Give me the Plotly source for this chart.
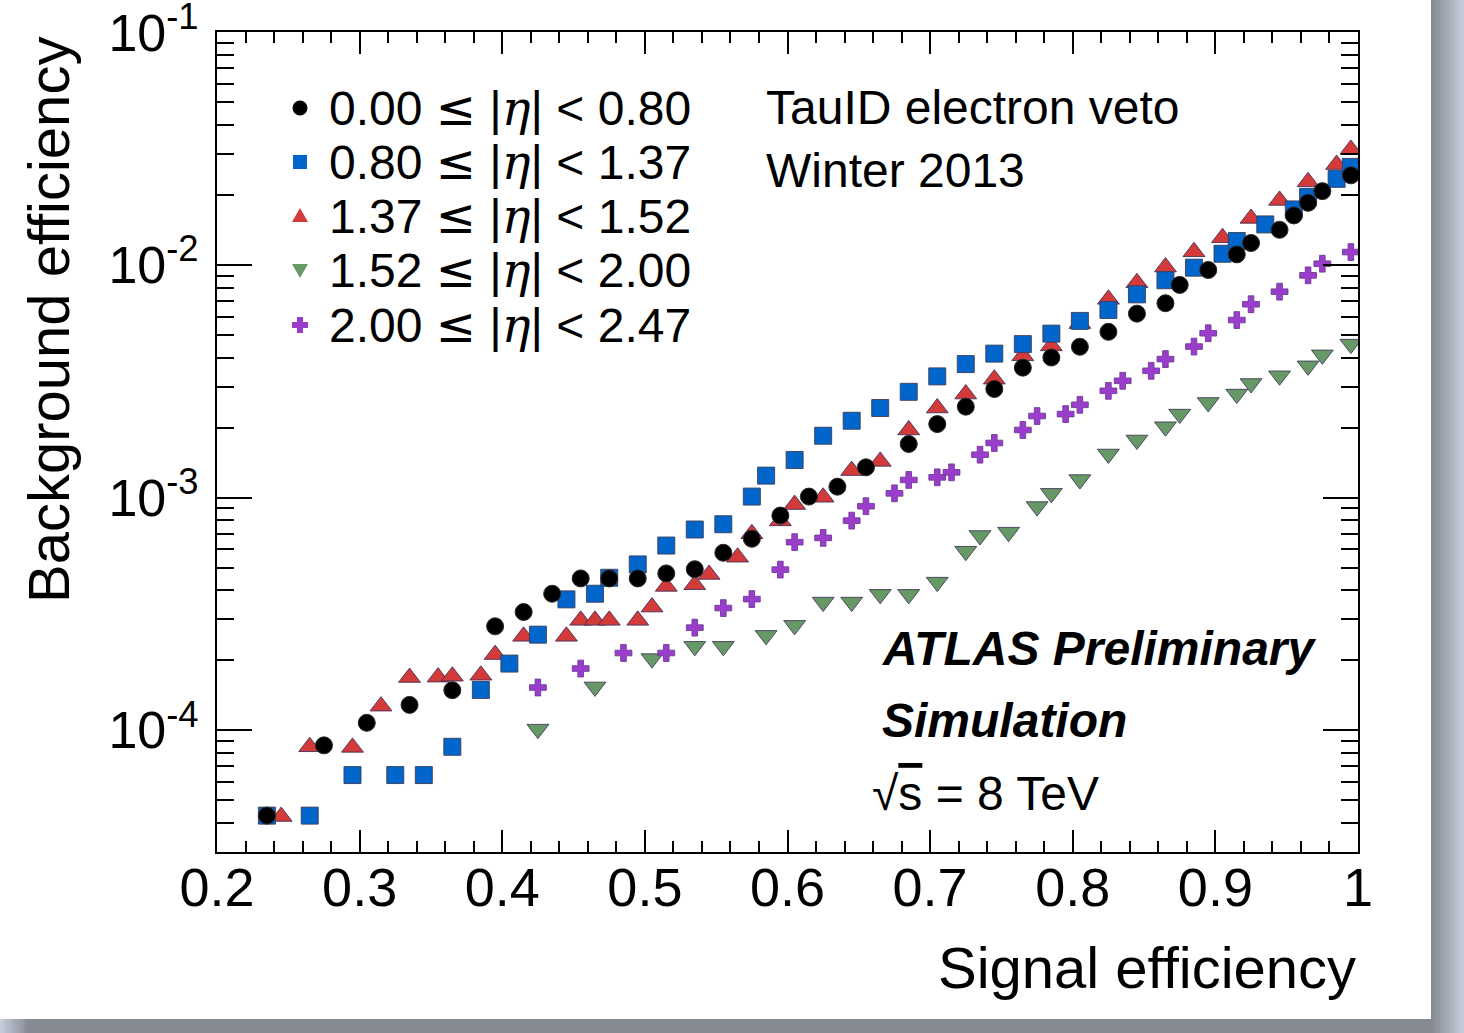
import plotly.graph_objects as go

# ---------------- data ----------------
series_names = ["0.00 ≤ |η| < 0.80", "0.80 ≤ |η| < 1.37", "1.37 ≤ |η| < 1.52",
                "1.52 ≤ |η| < 2.00", "2.00 ≤ |η| < 2.47"]

black_x = [0.235, 0.275, 0.305, 0.335, 0.365, 0.395, 0.415, 0.435, 0.455, 0.475,
           0.495, 0.515, 0.535, 0.555, 0.575, 0.595, 0.615, 0.635, 0.655, 0.685,
           0.705, 0.725, 0.745, 0.765, 0.785, 0.805, 0.825, 0.845, 0.865, 0.875,
           0.895, 0.915, 0.925, 0.945, 0.955, 0.965, 0.975, 0.995]
black_y = [4.29e-5, 8.60e-5, 1.075e-4, 1.284e-4, 1.485e-4, 2.795e-4, 3.22e-4, 3.86e-4, 4.49e-4, 4.49e-4,
           4.49e-4, 4.72e-4, 4.92e-4, 5.79e-4, 6.65e-4, 8.37e-4, 1.010e-3, 1.114e-3, 1.349e-3, 1.70e-3,
           2.07e-3, 2.46e-3, 2.93e-3, 3.62e-3, 4.00e-3, 4.45e-3, 5.16e-3, 6.18e-3, 6.85e-3, 8.21e-3,
           9.52e-3, 1.111e-2, 1.243e-2, 1.417e-2, 1.634e-2, 1.851e-2, 2.078e-2, 2.43e-2]

blue_x = [0.235, 0.265, 0.295, 0.325, 0.345, 0.365, 0.385, 0.405, 0.425, 0.445,
          0.465, 0.475, 0.495, 0.515, 0.535, 0.555, 0.575, 0.585, 0.605, 0.625,
          0.645, 0.665, 0.685, 0.705, 0.725, 0.745, 0.765, 0.785, 0.805, 0.825,
          0.845, 0.865, 0.885, 0.905, 0.915, 0.935, 0.955, 0.965, 0.985, 0.995]
blue_y = [4.29e-5, 4.29e-5, 6.41e-5, 6.41e-5, 6.41e-5, 8.48e-5, 1.489e-4, 1.933e-4, 2.574e-4, 3.65e-4,
          3.86e-4, 4.52e-4, 5.16e-4, 6.22e-4, 7.29e-4, 7.68e-4, 1.010e-3, 1.243e-3, 1.451e-3, 1.845e-3,
          2.14e-3, 2.427e-3, 2.85e-3, 3.32e-3, 3.75e-3, 4.16e-3, 4.57e-3, 5.07e-3, 5.75e-3, 6.41e-3,
          7.48e-3, 8.60e-3, 9.74e-3, 1.118e-2, 1.268e-2, 1.495e-2, 1.734e-2, 1.964e-2, 2.347e-2, 2.642e-2]

red_x = [0.245, 0.265, 0.295, 0.315, 0.335, 0.355, 0.365, 0.385, 0.395, 0.415,
         0.445, 0.455, 0.465, 0.475, 0.495, 0.505, 0.515, 0.535, 0.545, 0.565,
         0.575, 0.595, 0.605, 0.625, 0.645, 0.665, 0.685, 0.705, 0.725, 0.745,
         0.765, 0.785, 0.805, 0.825, 0.845, 0.865, 0.885, 0.905, 0.925, 0.945,
         0.965, 0.985, 0.995]
red_y = [4.25e-5, 8.48e-5, 8.43e-5, 1.268e-4, 1.683e-4, 1.69e-4, 1.705e-4, 1.722e-4, 2.113e-4, 2.531e-4,
         2.531e-4, 2.965e-4, 2.965e-4, 2.965e-4, 2.965e-4, 3.382e-4, 4.15e-4, 4.22e-4, 4.67e-4, 5.54e-4,
         6.99e-4, 7.94e-4, 9.33e-4, 1.003e-3, 1.306e-3, 1.431e-3, 1.953e-3, 2.427e-3, 2.787e-3, 3.23e-3,
         4.07e-3, 4.49e-3, 5.6e-3, 7.12e-3, 8.39e-3, 9.80e-3, 1.140e-2, 1.310e-2, 1.586e-2, 1.895e-2,
         2.278e-2, 2.705e-2, 3.14e-2]

green_x = [0.425, 0.465, 0.505, 0.535, 0.555, 0.585, 0.605, 0.625, 0.645, 0.665,
           0.685, 0.705, 0.725, 0.735, 0.755, 0.775, 0.785, 0.805, 0.825, 0.845,
           0.865, 0.875, 0.895, 0.915, 0.925, 0.945, 0.965, 0.975, 0.995]
green_y = [1.010e-4, 1.534e-4, 2.031e-4, 2.293e-4, 2.293e-4, 2.556e-4, 2.822e-4, 3.554e-4, 3.554e-4, 3.836e-4,
           3.836e-4, 4.33e-4, 5.88e-4, 6.87e-4, 7.10e-4, 9.15e-4, 1.043e-3, 1.195e-3, 1.540e-3, 1.769e-3,
           2.017e-3, 2.286e-3, 2.565e-3, 2.787e-3, 3.095e-3, 3.34e-3, 3.686e-3, 4.11e-3, 4.57e-3]

purple_x = [0.425, 0.455, 0.485, 0.515, 0.535, 0.555, 0.575, 0.595, 0.605, 0.625,
            0.645, 0.655, 0.675, 0.685, 0.705, 0.715, 0.735, 0.745, 0.765, 0.775,
            0.795, 0.805, 0.825, 0.835, 0.855, 0.865, 0.885, 0.895, 0.915, 0.925,
            0.945, 0.965, 0.975, 0.995]
purple_y = [1.525e-4, 1.840e-4, 2.146e-4, 2.146e-4, 2.759e-4, 3.349e-4, 3.66e-4, 4.90e-4, 6.43e-4, 6.71e-4,
            7.96e-4, 9.18e-4, 1.043e-3, 1.191e-3, 1.222e-3, 1.284e-3, 1.529e-3, 1.717e-3, 1.953e-3, 2.242e-3,
            2.286e-3, 2.506e-3, 2.878e-3, 3.178e-3, 3.509e-3, 3.94e-3, 4.46e-3, 5.09e-3, 5.80e-3, 6.78e-3,
            7.68e-3, 9.03e-3, 1.013e-2, 1.137e-2]

x_ticks = [0.2, 0.3, 0.4, 0.5, 0.6, 0.7, 0.8, 0.9, 1.0]
x_ticktext = ["0.2", "0.3", "0.4", "0.5", "0.6", "0.7", "0.8", "0.9", "1"]
y_ticks = [1e-4, 1e-3, 1e-2, 1e-1]
y_ticktext = ["10<sup>-4</sup>", "10<sup>-3</sup>", "10<sup>-2</sup>", "10<sup>-1</sup>"]

# ---------------- style ----------------
C_BLACK = "#000000"
C_BLUE = "#0066cc"
C_RED = "#d33a3a"
C_GREEN = "#669966"
C_PURPLE = "#9a3dcc"
FONT = "Liberation Sans, Arial, Helvetica, sans-serif"

W, H = 1464, 1033
L, R, T, B = 217, 106, 32, 181
PW, PH = W - L - R, H - T - B


def px(xp):
    return (xp - L) / PW


def py(yp):
    return (T + PH - yp) / PH


fig = go.Figure()

traces = [
    (red_x, red_y, "triangle-up", 19, C_RED, "rgba(70,50,90,0.9)"),
    (green_x, green_y, "triangle-down", 19, C_GREEN, "rgba(70,60,90,0.9)"),
    (purple_x, purple_y, "cross", 14, C_PURPLE, "rgba(110,60,150,0.9)"),
    (blue_x, blue_y, "square", 17, C_BLUE, "rgba(60,60,90,0.9)"),
    (black_x, black_y, "circle", 17, C_BLACK, "rgba(40,40,40,1)"),
]
for xs, ys, sym, sz, col, lc in traces:
    fig.add_trace(go.Scatter(
        x=xs, y=ys, mode="markers", showlegend=False,
        marker=dict(symbol=sym, size=sz, color=col, line=dict(width=1, color=lc)),
    ))

fig.update_layout(
    width=W, height=H,
    margin=dict(l=L, r=R, t=T, b=B, pad=0, autoexpand=False),
    paper_bgcolor="white", plot_bgcolor="white",
    font=dict(family=FONT, color="black"),
    showlegend=False,
)

fig.update_xaxes(
    range=[0.2, 1.0], tickvals=x_ticks, ticktext=x_ticktext,
    showgrid=False, zeroline=False, automargin=False,
    showline=True, linecolor="black", linewidth=2, mirror="ticks",
    ticks="inside", ticklen=22, tickwidth=2, tickcolor="black",
    minor=dict(dtick=0.02, ticks="inside", ticklen=11, tickwidth=1.5, tickcolor="black", showgrid=False),
    tickfont=dict(size=54, family=FONT), ticklabelstandoff=-13, ticklabeloverflow="allow",
)
fig.update_yaxes(
    type="log", range=[-4.524, -0.998], tickvals=y_ticks, ticktext=y_ticktext,
    showgrid=False, zeroline=False, automargin=False,
    showline=True, linecolor="black", linewidth=2, mirror="ticks",
    ticks="inside", ticklen=35, tickwidth=2, tickcolor="black",
    minor=dict(dtick="D1", ticks="inside", ticklen=17, tickwidth=1.5, tickcolor="black", showgrid=False),
    tickfont=dict(size=52, family=FONT), ticklabelstandoff=6, ticklabeloverflow="allow",
)

ann = []
# axis titles
ann.append(dict(text="Signal efficiency", x=1.0, y=py(968), xref="paper", yref="paper",
                xanchor="right", yanchor="middle", showarrow=False, font=dict(size=58, family=FONT)))
ann.append(dict(text="Background efficiency", x=px(48), y=py(35), xref="paper", yref="paper",
                xanchor="center", yanchor="top", textangle=-90, showarrow=False,
                font=dict(size=58, family=FONT)))
# labels
ann.append(dict(text="TauID electron veto", x=px(764), y=py(108), xref="paper", yref="paper",
                xanchor="left", yanchor="middle", showarrow=False, font=dict(size=48, family=FONT)))
ann.append(dict(text="Winter 2013", x=px(764), y=py(170), xref="paper", yref="paper",
                xanchor="left", yanchor="middle", showarrow=False, font=dict(size=48, family=FONT)))
ann.append(dict(text="<b><i>ATLAS Preliminary</i></b>", x=px(880), y=py(648), xref="paper", yref="paper",
                xanchor="left", yanchor="middle", showarrow=False, font=dict(size=48, family=FONT)))
ann.append(dict(text="<b><i>Simulation</i></b>", x=px(880), y=py(720), xref="paper", yref="paper",
                xanchor="left", yanchor="middle", showarrow=False, font=dict(size=48, family=FONT)))
ann.append(dict(text="√<span style='text-decoration:overline'>s</span> = 8 TeV", x=px(870), y=py(793),
                xref="paper", yref="paper",
                xanchor="left", yanchor="middle", showarrow=False, font=dict(size=48, family=FONT)))

# manual legend
row_y = [108, 162, 216, 270, 325]
for name, ry in zip(series_names, row_y):
    txt = name.replace("|η|", "|<span style='font-family:DejaVu Serif'><i>η</i></span>|")
    txt = txt.replace("≤", "<span style='font-family:DejaVu Sans'>≤</span>")
    ann.append(dict(text=txt, x=px(327), y=py(ry), xref="paper", yref="paper",
                    xanchor="left", yanchor="middle", showarrow=False, font=dict(size=48, family=FONT)))
fig.update_layout(annotations=ann)

shapes = []
mx = px(300)
# circle
shapes.append(dict(type="circle", xref="paper", yref="paper", xsizemode="pixel", ysizemode="pixel",
                   xanchor=mx, yanchor=py(row_y[0]), x0=-7.5, x1=7.5, y0=-7.5, y1=7.5,
                   fillcolor=C_BLACK, line=dict(width=0)))
# square
shapes.append(dict(type="rect", xref="paper", yref="paper", xsizemode="pixel", ysizemode="pixel",
                   xanchor=mx, yanchor=py(row_y[1]), x0=-7, x1=7, y0=-7, y1=7,
                   fillcolor=C_BLUE, line=dict(width=0)))
# triangle up
shapes.append(dict(type="path", xref="paper", yref="paper", xsizemode="pixel", ysizemode="pixel",
                   xanchor=mx, yanchor=py(row_y[2]), path="M -8 -6 L 8 -6 L 0 8 Z",
                   fillcolor=C_RED, line=dict(width=0)))
# triangle down
shapes.append(dict(type="path", xref="paper", yref="paper", xsizemode="pixel", ysizemode="pixel",
                   xanchor=mx, yanchor=py(row_y[3]), path="M -8 6 L 8 6 L 0 -8 Z",
                   fillcolor=C_GREEN, line=dict(width=0)))
# cross
shapes.append(dict(type="path", xref="paper", yref="paper", xsizemode="pixel", ysizemode="pixel",
                   xanchor=mx, yanchor=py(row_y[4]),
                   path="M -3 -8 L 3 -8 L 3 -3 L 8 -3 L 8 3 L 3 3 L 3 8 L -3 8 L -3 3 L -8 3 L -8 -3 L -3 -3 Z",
                   fillcolor=C_PURPLE, line=dict(width=0)))


# shadow frame (right and bottom strips)
def lerp(c1, c2, t):
    return "rgb(%d,%d,%d)" % tuple(round(a + (b - a) * t) for a, b in zip(c1, c2))


dark = (134, 138, 147)
light = (196, 204, 218)
n = 11
for i in range(n):
    x0 = 1431 + i * 3
    shapes.append(dict(type="rect", xref="paper", yref="paper", layer="below",
                       x0=px(x0), x1=px(x0 + 3.2), y0=py(1033), y1=py(0),
                       fillcolor=lerp(dark, light, i / (n - 1)), line=dict(width=0)))
shapes.append(dict(type="rect", xref="paper", yref="paper", layer="below",
                   x0=px(30), x1=px(1431), y0=py(1033), y1=py(1019),
                   fillcolor=lerp(dark, dark, 0), line=dict(width=0)))
for i in range(10):
    x0 = i * 3
    shapes.append(dict(type="rect", xref="paper", yref="paper", layer="below",
                       x0=px(x0), x1=px(x0 + 3.2), y0=py(1033), y1=py(1019),
                       fillcolor=lerp(light, dark, i / 9), line=dict(width=0)))

fig.update_layout(shapes=shapes)

fig.write_html("out.html")
